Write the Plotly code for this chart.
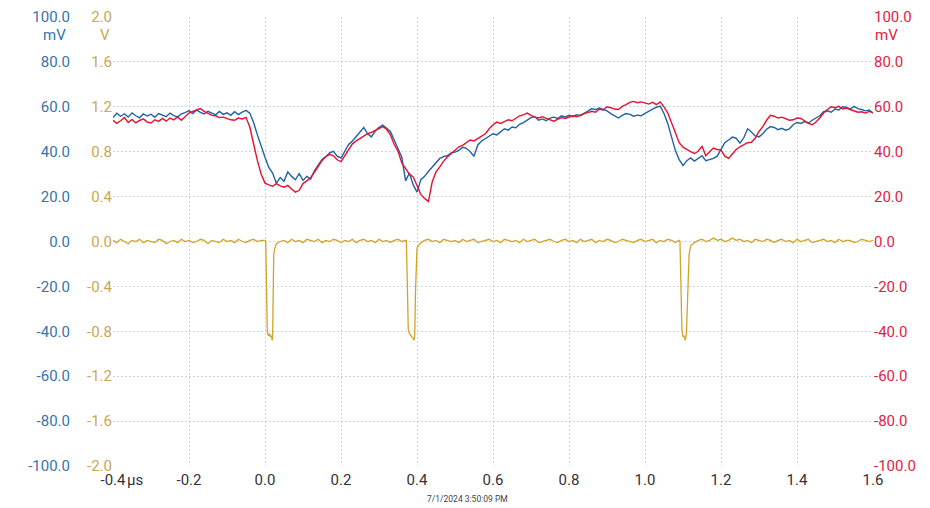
import plotly.graph_objects as go

# ---------------- data ----------------
T_START = -0.40   # µs
T_STEP = 0.01     # µs
N = 201

BLUE_MV = [
    55.2, 57.1, 55.8, 56.9, 55.4, 57.3, 56.0, 55.1, 56.8, 55.9,
    56.7, 55.3, 57.0, 56.2, 55.6, 57.2, 56.1, 55.5, 56.9, 57.4,
    58.3, 57.0, 58.6, 57.5, 56.8, 58.0, 57.1, 56.4, 57.9, 56.6,
    57.3, 56.2, 57.8, 56.5, 57.6, 58.4, 57.2, 53.0, 47.5, 42.0,
    37.5, 33.0, 30.5, 26.0, 28.5, 26.8, 31.0, 29.0, 27.5, 30.2,
    27.2, 29.0, 27.8, 31.5, 34.0, 36.5, 37.8, 39.5, 40.2, 38.0,
    37.2, 40.5, 43.2, 44.8, 46.9, 48.5, 50.8, 48.0, 46.6, 49.2,
    50.9, 51.8, 50.2, 49.0, 45.2, 41.0, 37.5, 27.0, 30.5, 25.2,
    22.0, 27.5, 29.0, 31.2, 33.0, 35.2, 37.0, 37.8, 38.2, 39.5,
    39.8, 40.6, 42.0, 41.5, 40.0, 38.0, 43.0, 44.8, 46.0, 47.2,
    48.0, 47.5, 49.0, 50.2, 49.6, 51.0, 50.7, 52.2, 53.0, 54.1,
    55.2, 55.6, 54.0, 54.6, 53.8, 55.0, 55.4, 54.8, 56.0, 55.5,
    56.2, 55.6, 56.5, 56.0, 57.2, 58.0, 59.2, 58.7, 59.5, 58.8,
    58.2, 57.0, 55.8, 55.0, 56.2, 57.0, 56.6, 55.8, 56.3, 56.0,
    57.1, 58.0, 59.0, 59.8, 60.3, 57.0, 52.5, 46.0, 40.5, 36.5,
    33.8, 36.0, 37.2, 35.8, 37.0, 38.2, 36.0, 36.5, 37.0, 38.0,
    41.0, 44.0, 45.2, 46.5, 46.0, 43.8, 46.2, 50.2, 48.8, 47.0,
    46.6, 48.0, 50.0, 51.2, 50.8, 49.8, 50.4, 49.6, 50.2, 52.0,
    53.0, 52.6, 53.4, 52.8, 54.0, 55.2, 56.0, 57.8, 58.2, 57.6,
    59.0, 58.6, 60.0, 59.8, 59.0, 60.2, 59.2, 58.8, 58.2, 58.6,
    57.2,
]

RED_MV = [
    54.0, 52.6, 53.8, 55.2, 53.0, 54.4, 52.8, 53.9, 54.6, 53.2,
    52.8, 54.2, 53.5, 54.8, 53.6, 55.0, 54.2, 55.5, 54.0, 55.8,
    57.2, 58.0, 58.6, 59.2, 58.0, 57.0, 56.2, 56.0, 55.2, 55.4,
    54.8, 54.2, 54.0, 55.0, 54.6, 55.3, 51.0, 43.0, 36.0, 30.0,
    26.0, 25.2, 24.6, 25.8, 24.8, 24.2, 25.0, 23.4, 22.0, 22.8,
    25.8, 27.0, 28.4, 30.8, 33.6, 36.0, 37.8, 38.8, 38.2, 36.4,
    35.6, 38.2, 41.0, 43.5, 44.8, 46.0, 47.2, 48.0, 48.6, 49.5,
    50.2, 51.2, 50.0, 47.5, 43.2, 40.2, 35.0, 32.5, 30.0, 28.8,
    25.2, 21.0, 19.2, 17.8, 26.5, 31.0, 33.2, 35.8, 37.6, 39.2,
    40.6, 42.2, 42.8, 44.0, 45.2, 44.8, 46.0, 47.2, 48.0, 50.2,
    52.0, 53.2, 52.6, 53.4, 54.2, 53.8, 55.0, 56.0, 56.4, 57.2,
    56.2, 55.4, 55.0, 55.6, 54.8, 54.2, 53.6, 54.4, 55.2, 54.8,
    55.4, 56.0, 55.6, 56.4, 57.0, 57.4, 58.0, 57.6, 59.0, 58.6,
    60.0, 59.6, 59.0, 58.8, 60.2, 61.0, 62.0, 62.4, 61.8, 62.2,
    61.6, 61.2, 62.0, 61.0, 62.2, 60.0, 57.2, 53.0, 48.2, 44.0,
    42.0, 40.8, 40.0, 39.2, 40.2, 42.5, 38.2, 40.0, 41.6, 41.0,
    40.8, 38.0, 37.0, 39.0, 41.0, 42.2, 43.0, 44.0, 44.2, 46.0,
    49.0, 51.2, 54.0, 56.2, 55.8, 55.0, 55.4, 54.6, 54.0, 54.2,
    55.0, 54.8, 53.6, 52.6, 52.0, 53.2, 55.0, 57.2, 58.8, 60.0,
    59.6, 60.2, 59.0, 59.4, 58.8, 58.2, 57.6, 57.8, 57.2, 58.0,
    57.4,
]

YELLOW_V = [
    0.01, -0.01, 0.02, 0.00, -0.02, 0.01, 0.00, 0.02, -0.01, 0.01,
    0.00, -0.01, 0.02, 0.01, -0.02, 0.00, 0.01, -0.01, 0.02, 0.00,
    0.01, -0.01, 0.00, 0.02, 0.01, -0.02, 0.01, 0.00, -0.01, 0.02,
    0.00, 0.01, -0.01, 0.02, 0.00, -0.01, 0.01, 0.02, 0.00, 0.01,
    0.01, -0.84, -0.86, -0.02, 0.00, 0.01, -0.01, 0.02, 0.00, 0.01,
    -0.01, 0.02, 0.01, 0.00, 0.02, -0.01, 0.01, 0.00, 0.02, 0.01,
    -0.01, 0.01, 0.00, 0.02, -0.01, 0.01, 0.02, 0.00, 0.01, -0.01,
    0.02, 0.00, 0.01, -0.01, 0.01, 0.02, 0.00, 0.01, -0.82, -0.86,
    -0.06, -0.01, 0.01, 0.02, 0.00, 0.01, -0.01, 0.02, 0.01, 0.00,
    0.01, -0.01, 0.02, 0.00, 0.01, 0.02, -0.01, 0.00, 0.01, 0.02,
    0.00, 0.01, -0.01, 0.02, 0.01, 0.00, 0.01, -0.01, 0.02, 0.00,
    0.01, 0.02, -0.01, 0.00, 0.01, 0.02, 0.00, -0.01, 0.01, 0.02,
    0.00, 0.01, -0.01, 0.02, 0.00, 0.01, 0.02, -0.01, 0.01, 0.00,
    0.02, 0.01, -0.01, 0.00, 0.02, 0.01, 0.00, -0.01, 0.01, 0.02,
    0.00, 0.01, 0.02, -0.01, 0.01, 0.00, 0.02, 0.01, -0.01, 0.01,
    -0.85, -0.72, -0.04, -0.01, 0.01, 0.02, 0.00, 0.01, 0.03, 0.01,
    0.02, 0.00, 0.01, 0.03, 0.01, 0.02, 0.00, 0.01, -0.01, 0.02,
    0.01, 0.00, 0.02, 0.01, -0.01, 0.01, 0.02, 0.00, 0.01, -0.01,
    0.02, 0.00, 0.01, 0.02, -0.01, 0.00, 0.01, 0.02, 0.00, 0.01,
    -0.01, 0.02, 0.00, 0.01, 0.01, -0.01, 0.00, 0.02, 0.01, 0.00,
    0.01,
]

# extra samples on the pulse edges (µs, V)
PULSE_T = [0.002, 0.004, 0.006, 0.008, 0.012, 0.014, 0.017, 0.019, 0.021, 0.023, 0.026,
           0.372, 0.375, 0.377, 0.383, 0.386, 0.392, 0.394, 0.396, 0.398, 0.403,
           1.092, 1.095, 1.097, 1.103, 1.106, 1.109, 1.113, 1.116, 1.119]
PULSE_V = [0.00, -0.45, -0.80, -0.83, -0.82, -0.85, -0.84, -0.88, -0.55, -0.12, -0.06,
           0.01, -0.45, -0.78, -0.83, -0.85, -0.88, -0.84, -0.45, -0.12, -0.04,
           0.00, -0.45, -0.78, -0.84, -0.88, -0.82, -0.45, -0.12, -0.06]

X_TICKS = [-0.4, -0.2, 0.0, 0.2, 0.4, 0.6, 0.8, 1.0, 1.2, 1.4, 1.6]
X_LABELS = ["-0.4", "-0.2", "0.0", "0.2", "0.4", "0.6", "0.8", "1.0", "1.2", "1.4", "1.6"]
MV_TICKS = [100, 80, 60, 40, 20, 0, -20, -40, -60, -80, -100]
MV_LABELS = ["100.0", "80.0", "60.0", "40.0", "20.0", "0.0", "-20.0", "-40.0", "-60.0", "-80.0", "-100.0"]
V_TICKS = [2.0, 1.6, 1.2, 0.8, 0.4, 0.0, -0.4, -0.8, -1.2, -1.6, -2.0]
V_LABELS = ["2.0", "1.6", "1.2", "0.8", "0.4", "0.0", "-0.4", "-0.8", "-1.2", "-1.6", "-2.0"]
TIMESTAMP = "7/1/2024 3:50:09 PM"

# ---------------- build ----------------
t_grid = [round(T_START + T_STEP * i, 3) for i in range(N)]
yel = sorted(list(zip(t_grid, YELLOW_V)) + list(zip(PULSE_T, PULSE_V)))
yel_t = [p[0] for p in yel]
yel_v = [p[1] for p in yel]

W, H = 930, 508
ML, MR, MT, MB = 10, 57, 17, 42
PLOT_W = W - ML - MR
x_dom0 = (113 - ML) / PLOT_W
blue_pos = (70 - ML) / PLOT_W

BLUE = "#1f62a8"
RED = "#e8102f"
YEL = "#d3a22a"
BLUE_TXT = "#3574ae"
RED_TXT = "#e21c45"
YEL_TXT = "#c9a752"
GRID = "#c4dbec"
GRID_DASH = "2px,2px"
FONT = "Roboto"

fig = go.Figure()
fig.add_trace(go.Scatter(x=yel_t, y=yel_v, mode="lines", yaxis="y",
                         line=dict(color=YEL, width=1.3), showlegend=False, hoverinfo="skip"))
fig.add_trace(go.Scatter(x=t_grid, y=BLUE_MV, mode="lines", yaxis="y2",
                         line=dict(color=BLUE, width=1.4), showlegend=False, hoverinfo="skip"))
fig.add_trace(go.Scatter(x=t_grid, y=RED_MV, mode="lines", yaxis="y3",
                         line=dict(color=RED, width=1.4), showlegend=False, hoverinfo="skip"))

fig.update_layout(
    width=W, height=H,
    margin=dict(l=ML, r=MR, t=MT, b=MB, pad=0, autoexpand=False),
    paper_bgcolor="white", plot_bgcolor="white",
    font=dict(family=FONT, size=15),
    hovermode=False,
    xaxis=dict(domain=[x_dom0, 1], range=[-0.4, 1.6], tickvals=X_TICKS, ticktext=X_LABELS,
               showgrid=True, gridcolor=GRID, griddash=GRID_DASH, gridwidth=1, automargin=False,
               zeroline=False, showline=False, ticks="", ticklabelstandoff=3,
               tickfont=dict(color="#333333", size=15, family=FONT)),
    yaxis=dict(range=[-2, 2], tickvals=V_TICKS, ticktext=V_LABELS, automargin=False,
               showgrid=False, zeroline=False, showline=False, ticks="",
               tickfont=dict(color=YEL_TXT, size=15, family=FONT), ticklabelstandoff=0),
    yaxis2=dict(range=[-100, 100], tickvals=MV_TICKS, ticktext=MV_LABELS, automargin=False,
                overlaying="y", anchor="free", position=blue_pos, side="left",
                showgrid=True, gridcolor=GRID, griddash=GRID_DASH, gridwidth=1,
                zeroline=False, showline=False, ticks="",
                tickfont=dict(color=BLUE_TXT, size=15, family=FONT), ticklabelstandoff=0),
    yaxis3=dict(range=[-100, 100], tickvals=MV_TICKS, ticktext=MV_LABELS, automargin=False,
                overlaying="y", anchor="x", side="right",
                showgrid=False, zeroline=False, showline=False, ticks="",
                tickfont=dict(color=RED_TXT, size=15, family=FONT), ticklabelstandoff=0),
)

ann = [
    dict(text="mV", xref="paper", yref="paper", x=blue_pos, y=1, xanchor="right", yanchor="middle",
         yshift=-18, xshift=-2, showarrow=False, font=dict(color=BLUE_TXT, size=15, family=FONT)),
    dict(text="V", xref="paper", yref="paper", x=x_dom0, y=1, xanchor="right", yanchor="middle",
         yshift=-18, xshift=-1, showarrow=False, font=dict(color=YEL_TXT, size=15, family=FONT)),
    dict(text="mV", xref="paper", yref="paper", x=1, y=1, xanchor="left", yanchor="middle",
         yshift=-18, xshift=0, showarrow=False, font=dict(color=RED_TXT, size=15, family=FONT)),
    dict(text="µs", xref="x", yref="paper", x=-0.4, y=0, xanchor="left", yanchor="middle",
         xshift=12, yshift=-14, showarrow=False, font=dict(color="#333333", size=15, family=FONT)),
    dict(text=TIMESTAMP, xref="paper", yref="paper", x=(467 - ML) / PLOT_W - 0.0, y=0,
         xanchor="center", yanchor="middle", yshift=-33, showarrow=False,
         font=dict(color="#444444", size=8.5, family=FONT)),
]
fig.update_layout(annotations=ann)

fig.write_html("out.html", config={"displayModeBar": False, "staticPlot": True},
               post_script="document.body.style.margin='0';document.body.style.padding='0';")
